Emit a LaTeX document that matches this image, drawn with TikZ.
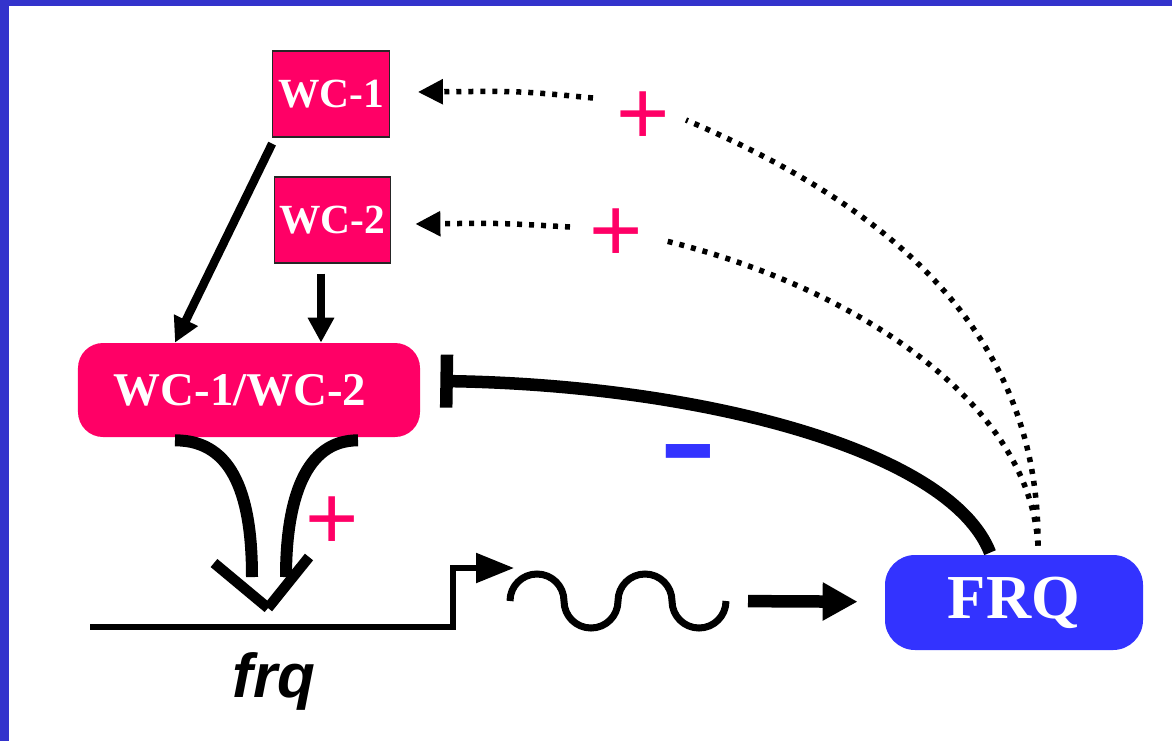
\documentclass[tikz,border=0pt]{standalone}
\usepackage{fontspec}
\setmainfont{Liberation Serif}
\setsansfont{Liberation Sans}
\usetikzlibrary{arrows.meta}
\definecolor{wcpink}{HTML}{FF0066}
\definecolor{frqblue}{HTML}{3333FF}
\definecolor{slideblue}{HTML}{3333CC}

\tikzset{
  wcbox/.style={draw=black!85, line width=0.25mm, fill=wcpink, text=white,
    font=\fontsize{23.6pt}{28pt}\selectfont\bfseries,
    minimum width=23.3mm, minimum height=17.2mm, inner sep=0pt},
  wccbox/.style={fill=wcpink, text=white, rounded corners=5mm,
    font=\fontsize{26.7pt}{30pt}\selectfont\bfseries,
    minimum width=68.4mm, minimum height=18.8mm, inner sep=0pt},
  frqbox/.style={fill=frqblue, text=white, rounded corners=6mm,
    font=\fontsize{35.6pt}{40pt}\selectfont\bfseries,
    minimum width=51.6mm, minimum height=19mm, inner sep=0pt},
  plus/.style={text=wcpink, inner sep=0pt,
    font=\sffamily\fontsize{52pt}{56pt}\selectfont},
  minus/.style={text=frqblue, inner sep=0pt,
    font=\sffamily\bfseries\fontsize{66pt}{70pt}\selectfont},
  solidarr/.style={line width=1.7mm, -{Triangle[length=5mm,width=5mm]}},
  dotarr/.style={line width=1.1mm, dash pattern=on 1mm off 1.4mm,
    -{Triangle[length=5mm,width=4.8mm]}},
  dotline/.style={line width=1.1mm, dash pattern=on 1mm off 1.4mm},
  hook/.style={line width=2.4mm},
  repress/.style={line width=2.5mm, -{Bar[width=10.6mm]}},
  gene/.style={line width=1.1mm, -{Triangle[length=7.6mm,width=5.8mm]}},
  fatarr/.style={line width=2.5mm, -{Triangle[length=7mm,width=7.2mm]}},
}

\begin{document}
\begin{tikzpicture}[x=0.2mm, y=-0.2mm]
  \useasboundingbox (0,0) rectangle (1172,741);

  % Folienrand
  \fill[slideblue] (0,0) rectangle (1172,6);
  \fill[slideblue] (0,0) rectangle (9,741);

  % Boxen
  \node[wcbox] (wc1) at (331,94) {WC-1};
  \node[wcbox] (wc2) at (332.5,220) {WC-2};
  \node[wccbox] (wcc) at (249,390) {WC-1/WC-2\kern3.6mm};
  \node[frqbox] (frq) at (1014,602.5) {FRQ};

  % Komplexbildung
  \draw[solidarr] ([shift={(0,6)}]wc1.south west) -- ([shift={(-74,0)}]wcc.north);
  \draw[solidarr] ([shift={(-11.5,10)}]wc2.south) -- ([shift={(72,0)}]wcc.north);

  % Bindung am Promotor
  \coordinate (site) at (268,608);
  \draw[hook] ([shift={(-74,3)}]wcc.south) .. controls (235,440) and (252,500) .. (252,577);
  \draw[hook] ([shift={(109,3)}]wcc.south) .. controls (305,440) and (286,500) .. (286,577);
  \draw[line width=2.1mm] (site) -- ++(-54,-45);
  \draw[line width=2.1mm] (site) -- ++(41,-51);
  \node[plus] (pC) at (332,523) {+};

  % Gen und Transkript
  \coordinate (geneL) at (90,627);
  \draw[gene] (geneL) -- ++(363,0) -- ++(0,-59) -- ++(61,0);
  \node[font=\sffamily\bfseries\itshape\fontsize{35.3pt}{40pt}\selectfont,
    anchor=base, inner sep=0pt] (frqgene) at (274,697) {frq};
  \coordinate (mrna) at (510,601);
  \draw[line width=1.4mm] (mrna)
    arc[start angle=180, end angle=360, radius=27]
    arc[start angle=180, end angle=0, radius=27]
    arc[start angle=180, end angle=360, radius=27]
    arc[start angle=180, end angle=0, radius=27] coordinate (mrnaend);
  \draw[fatarr, shorten <=4.4mm, shorten >=5.4mm] (mrnaend) -- (frq);

  % negative Rueckkopplung
  \draw[repress] ([shift={(-24,-2)}]frq.north) .. controls (950,450) and (700,385)
    .. ([shift={(20,-9)}]wcc.east);
  \node[minus] (mn) at (688,463) {\scalebox{1.5}[1]{-}};

  % positive Rueckkopplung
  \coordinate (gA1) at (593,98);
  \coordinate (gA2) at (686,120);
  \coordinate (gB1) at (570,227);
  \coordinate (gB2) at (662,240);
  \node[plus] (pA) at (643,118) {+};
  \node[plus] (pB) at (616,235) {+};
  \draw[dotline] ([shift={(24,-9)}]frq.north) .. controls (1040,330) and (886,205) .. (gA2);
  \draw[dotline] ([shift={(24,-9)}]frq.north) .. controls (1030,400) and (850,285) .. (gB2);
  \draw[dotarr] (gA1) .. controls (520,91) .. ([shift={(28,-2)}]wc1.east);
  \draw[dotarr] (gB1) .. controls (500,223) .. ([shift={(24,4)}]wc2.east);
\end{tikzpicture}
\end{document}
